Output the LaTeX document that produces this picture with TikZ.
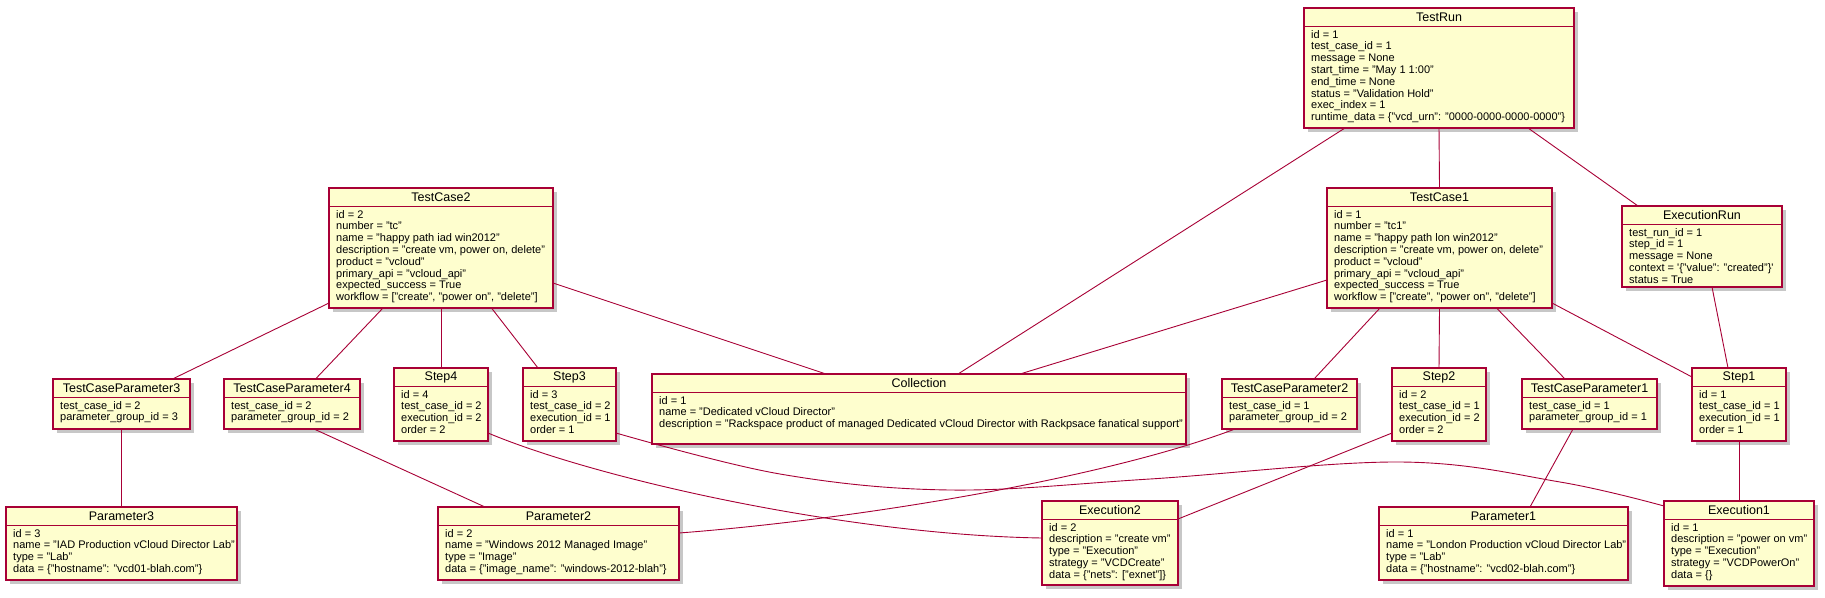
\documentclass[tikz,border=0pt]{standalone}
\usepackage{fontspec}
\setmainfont{Liberation Sans}
\usetikzlibrary{calc,shadows}
\definecolor{umlred}{HTML}{A80036}
\definecolor{umlyellow}{HTML}{FEFECE}
\tikzset{
  umlbox/.style={draw=umlred, fill=umlyellow, line width=1.1pt, inner sep=0pt, outer sep=0pt,
    drop shadow={shadow xshift=3.5pt, shadow yshift=-3.5pt, fill=black, opacity=0.22}},
  umltitle/.style={inner sep=0pt, font=\fontsize{12.5}{14}\selectfont},
  umlbody/.style={inner sep=0pt, align=left, font=\fontsize{11}{11.8}\selectfont},
  divider/.style={draw=umlred, line width=1.1pt},
  conn/.style={draw=umlred, line width=0.9pt},
}
\newcommand{\umlbox}[7]{%
  \node[umlbox, minimum width=#4pt, minimum height=#5pt, anchor=north west] (#1) at (#2,#3) {};
  \draw[divider] ([yshift=-18.5pt]#1.north west) -- ([yshift=-18.5pt]#1.north east);
  \node[umltitle] (#1-t) at ([yshift=-9.5pt]#1.north) {#6};
  \node[umlbody, anchor=north west] (#1-b) at ([xshift=7pt,yshift=-22pt]#1.north west) {#7};
}
\begin{document}
\begin{tikzpicture}[x=1pt, y=-1pt]
\fill[white] (0,0) rectangle (1825,597);
\useasboundingbox (0,0) rectangle (1825,597);

\umlbox{TestRun}{1304}{8}{270}{120}{TestRun}{id = 1\\ test\_case\_id = 1\\ message = None\\ start\_time = "May 1 1:00"\\ end\_time = None\\ status = "Validation Hold"\\ exec\_index = 1\\ runtime\_data = \{"vcd\_urn": "0000-0000-0000-0000"\}}
\umlbox{TestCase2}{329}{188}{224}{120}{TestCase2}{id = 2\\ number = "tc"\\ name = "happy path iad win2012"\\ description = "create vm, power on, delete"\\ product = "vcloud"\\ primary\_api = "vcloud\_api"\\ expected\_success = True\\ workflow = ["create", "power on", "delete"]}
\umlbox{TestCase1}{1327}{188}{225}{120}{TestCase1}{id = 1\\ number = "tc1"\\ name = "happy path lon win2012"\\ description = "create vm, power on, delete"\\ product = "vcloud"\\ primary\_api = "vcloud\_api"\\ expected\_success = True\\ workflow = ["create", "power on", "delete"]}
\umlbox{ExecutionRun}{1622}{206}{160}{81}{ExecutionRun}{test\_run\_id = 1\\ step\_id = 1\\ message = None\\ context = \textquotesingle\{"value": "created"\}\textquotesingle\\ status = True}

\umlbox{TCP3}{53}{379}{137}{50}{TestCaseParameter3}{test\_case\_id = 2\\ parameter\_group\_id = 3}
\umlbox{TCP4}{224}{379}{136}{50}{TestCaseParameter4}{test\_case\_id = 2\\ parameter\_group\_id = 2}
\umlbox{Step4}{394}{368}{94}{73}{Step4}{id = 4\\ test\_case\_id = 2\\ execution\_id = 2\\ order = 2}
\umlbox{Step3}{523}{368}{93}{73}{Step3}{id = 3\\ test\_case\_id = 2\\ execution\_id = 1\\ order = 1}
\umlbox{Collection}{652}{374}{534}{70}{Collection}{id = 1\\ name = "Dedicated vCloud Director"\\ description = "Rackspace product of managed Dedicated vCloud Director with Rackpsace fanatical support"}
\umlbox{TCP2}{1222}{379}{135}{50}{TestCaseParameter2}{test\_case\_id = 1\\ parameter\_group\_id = 2}
\umlbox{Step2}{1392}{368}{94}{73}{Step2}{id = 2\\ test\_case\_id = 1\\ execution\_id = 2\\ order = 2}
\umlbox{TCP1}{1522}{379}{135}{50}{TestCaseParameter1}{test\_case\_id = 1\\ parameter\_group\_id = 1}
\umlbox{Step1}{1692}{368}{94}{73}{Step1}{id = 1\\ test\_case\_id = 1\\ execution\_id = 1\\ order = 1}

\umlbox{Parameter3}{6}{507}{231}{73}{Parameter3}{id = 3\\ name = "IAD Production vCloud Director Lab"\\ type = "Lab"\\ data = \{"hostname": "vcd01-blah.com"\}}
\umlbox{Parameter2}{438}{507}{241}{73}{Parameter2}{id = 2\\ name = "Windows 2012 Managed Image"\\ type = "Image"\\ data = \{"image\_name": "windows-2012-blah"\}}
\umlbox{Execution2}{1042}{501}{136}{84}{Execution2}{id = 2\\ description = "create vm"\\ type = "Execution"\\ strategy = "VCDCreate"\\ data = \{"nets": ["exnet"]\}}
\umlbox{Parameter1}{1379}{507}{249}{73}{Parameter1}{id = 1\\ name = "London Production vCloud Director Lab"\\ type = "Lab"\\ data = \{"hostname": "vcd02-blah.com"\}}
\umlbox{Execution1}{1664}{501}{150}{85}{Execution1}{id = 1\\ description = "power on vm"\\ type = "Execution"\\ strategy = "VCDPowerOn"\\ data = \{\}}

% connectors
\draw[conn] ([xshift=-94pt]TestRun.south) -- ([xshift=39pt]Collection.north);
\draw[conn] (TestRun.south) -- (TestCase1.north);
\draw[conn] ([xshift=89pt]TestRun.south) -- ([xshift=-64pt]ExecutionRun.north);
\draw[conn] ([yshift=-35pt]TestCase2.east) -- ([xshift=-93pt]Collection.north);
\draw[conn] ([yshift=-32pt]TestCase1.west) -- ([xshift=101pt]Collection.north);
\draw[conn] ([yshift=-55pt]TestCase2.west) -- ([xshift=51pt]TCP3.north);
\draw[conn] ([xshift=-58pt]TestCase2.south) -- ([xshift=23.5pt]TCP4.north);
\draw[conn] (TestCase2.south) -- (Step4.north);
\draw[conn] ([xshift=50.5pt]TestCase2.south) -- ([xshift=-31.5pt]Step3.north);
\draw[conn] ([xshift=-59.5pt]TestCase1.south) -- ([xshift=24.5pt]TCP2.north);
\draw[conn] (TestCase1.south) -- (Step2.north);
\draw[conn] ([xshift=57pt]TestCase1.south) -- ([xshift=-24.5pt]TCP1.north);
\draw[conn] ([yshift=-55pt]TestCase1.east) -- ([yshift=-9pt]Step1.north west);
\draw[conn] ([xshift=10pt]ExecutionRun.south) -- ([xshift=-11pt]Step1.north);
\draw[conn] (TCP3.south) -- (Parameter3.north);
\draw[conn] ([xshift=22pt]TCP4.south) -- ([xshift=-73.5pt]Parameter2.north);
\draw[conn] ([yshift=-28.5pt]Step4.east) .. controls (600,480) and (850,535) .. ([yshift=5pt]Execution2.west);
\draw[conn] plot[smooth, tension=0.6] coordinates {([yshift=-28.5pt]Step3.east) (780,474) (950,490) (1150,479) (1400,462) (1560,482) ([yshift=37.5pt]Execution1.west)};
\draw[conn] ([xshift=-54.5pt]TCP2.south) .. controls (1100,480) and (850,520) .. ([yshift=10.5pt]Parameter2.east);
\draw[conn] ([yshift=-28.5pt]Step2.west) -- ([yshift=24pt]Execution2.east);
\draw[conn] ([xshift=-16.5pt]TCP1.south) -- ([xshift=26.5pt]Parameter1.north);
\draw[conn] (Step1.south) -- (Execution1.north);
\end{tikzpicture}
\end{document}
